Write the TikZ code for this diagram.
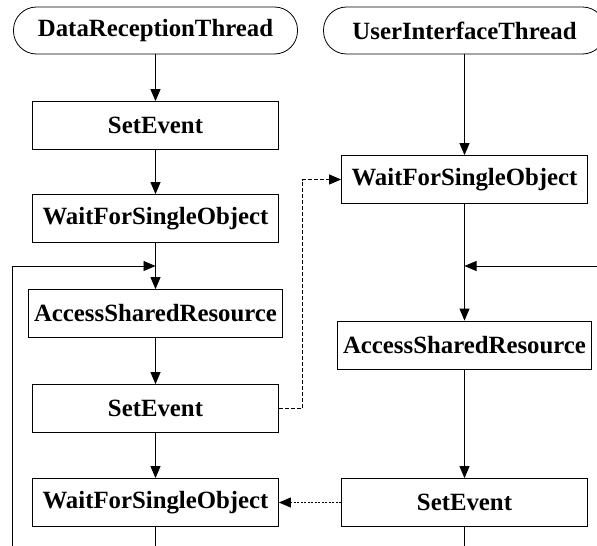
\documentclass[tikz,border=0pt]{standalone}
\usepackage{fontspec}
\setmainfont{Liberation Serif}
\usetikzlibrary{arrows.meta}

\begin{document}
\begin{tikzpicture}[x=1pt,y=-1pt,line width=0.8pt,
  every node/.style={font=\bfseries\fontsize{24.8}{29}\selectfont,inner sep=2pt},
  thread/.style={draw,rounded corners=23pt,minimum width=284pt,minimum height=47pt},
  call/.style={draw,minimum width=246pt,minimum height=48pt},
  flow/.style={-{Triangle[length=12pt,width=10pt]}}]
\useasboundingbox (0,0) rectangle (597,546);
\clip (0,0) rectangle (597,546);
\node[thread] (drt) at (155.5,30.5) {DataReceptionThread};
\node[thread,minimum width=282pt] (uit) at (464.5,30.5) {UserInterfaceThread};
\node[call] (se1) at (155.5,125.5) {SetEvent};
\node[call] (wf1) at (155.5,218.5) {WaitForSingleObject};
\node[call,minimum width=254pt] (asr1) at (155.5,313.5) {AccessSharedResource};
\node[call] (se2) at (155.5,408.5) {SetEvent};
\node[call] (wf2) at (155.5,502.5) {WaitForSingleObject};
\node[call] (wf3) at (464.5,179.5) {WaitForSingleObject};
\node[call,minimum width=254pt] (asr3) at (464.5,345) {AccessSharedResource};
\node[call] (se3) at (464.5,502.5) {SetEvent};
\coordinate (jl) at (155.5,266);
\coordinate (jr) at (464.5,266);
\coordinate (er) at (597,266);
\coordinate (bl) at (12,546);
\coordinate (dk) at (302,0);
\draw[flow] (drt) -- (se1);
\draw[flow] (se1) -- (wf1);
\draw[flow] (wf1) -- (asr1);
\draw[flow] (asr1) -- (se2);
\draw[flow] (se2) -- (wf2);
\draw (wf2.south) -- (wf2.south |- bl);
\draw[flow] (bl) |- (jl);
\draw[flow] (uit) -- (wf3);
\draw[flow] (wf3) -- (asr3);
\draw[flow] (asr3) -- (se3);
\draw (se3.south) -- (se3.south |- bl);
\draw[flow] (er) -- (jr);
\draw[flow,dash pattern=on 4pt off 2pt] (se2.east) -- (se2.east -| dk) -- (dk |- wf3.west) -- (wf3.west);
\draw[flow,dash pattern=on 2pt off 1.5pt] (se3) -- (wf2);
\end{tikzpicture}
\end{document}
